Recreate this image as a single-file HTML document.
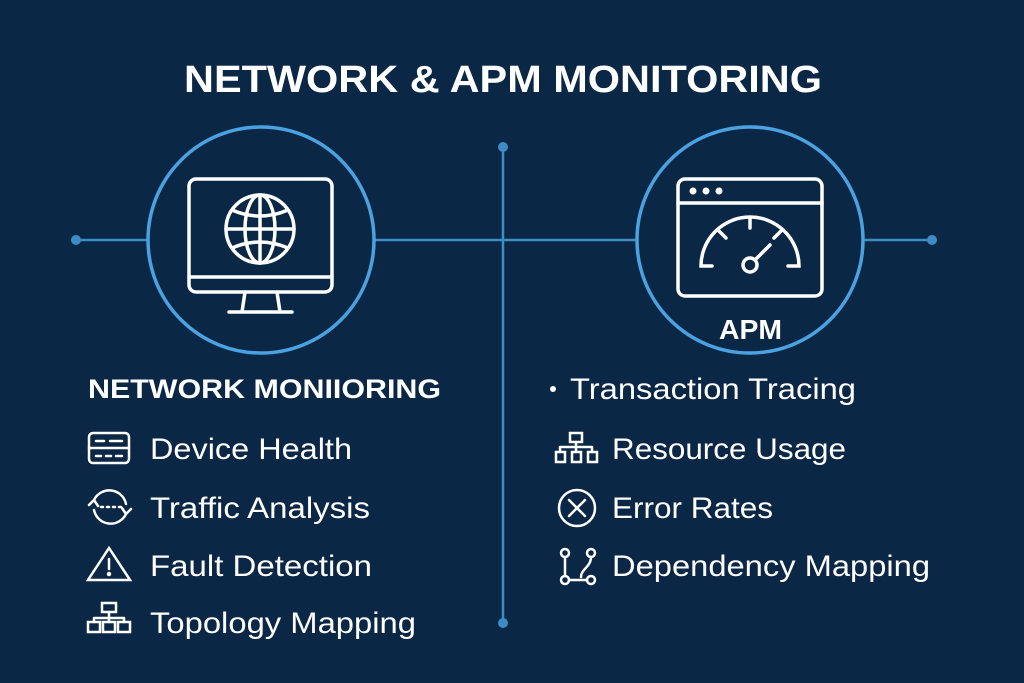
<!DOCTYPE html>
<html><head><style>
body{margin:0;width:1024px;height:683px;background:#0b2746;overflow:hidden}
svg{position:absolute;left:0;top:0}
text{font-family:"Liberation Sans",sans-serif;fill:#fff}
</style></head><body>
<svg width="1024" height="683" viewBox="0 0 1024 683">
<rect width="1024" height="683" fill="#0b2746"/>
<g stroke="#3d8cc4" stroke-width="2.5" fill="none">
<line x1="76" y1="240" x2="932" y2="240"/>
<line x1="503" y1="147" x2="503" y2="623"/>
</g>
<g fill="#3d8cc4"><circle cx="76" cy="240" r="5"/><circle cx="932" cy="240" r="5"/><circle cx="503" cy="147" r="5"/><circle cx="503" cy="623" r="5"/></g>
<g stroke="#4aa3e0" stroke-width="3.5" fill="#0b2746">
<circle cx="261" cy="240" r="113"/><circle cx="750" cy="240" r="113"/>
</g>
<text x="184" y="92" font-size="38" font-weight="bold" textLength="638" lengthAdjust="spacingAndGlyphs">NETWORK &amp; APM MONITORING</text>
<g stroke="#fff" stroke-width="3.5" fill="none" stroke-linecap="round">
<rect x="189" y="179" width="143" height="113" rx="7"/>
<line x1="189" y1="277" x2="332" y2="277"/>
<path d="M245 292 L242 312 M277 292 L280 312 M229 312 L292 312"/>
<circle cx="260" cy="229" r="34"/>
<ellipse cx="260" cy="229" rx="15" ry="34"/>
<line x1="260" y1="195" x2="260" y2="263"/>
<line x1="226" y1="229" x2="294" y2="229"/>
<path d="M232 210 Q260 222 288 210 M232 248 Q260 236 288 248"/>
</g>
<g stroke="#fff" stroke-width="3.5" fill="none" stroke-linecap="round">
<rect x="678" y="179" width="144" height="117" rx="7"/>
<line x1="678" y1="203" x2="822" y2="203"/>
<path d="M712 266 L701 266 A49 49 0 0 1 799 266 L788 266"/>
<path d="M750 218 L750 228 M719 231 L726 238 M781 231 L774 238"/>
<circle cx="750" cy="265" r="7"/>
<line x1="755" y1="260" x2="770" y2="245"/>
</g>
<g fill="#fff"><circle cx="693" cy="191" r="3.5"/><circle cx="706" cy="191" r="3.5"/><circle cx="719" cy="191" r="3.5"/></g>
<text x="719" y="339" font-size="28" font-weight="bold" textLength="63" lengthAdjust="spacingAndGlyphs">APM</text>
<text x="88" y="398" font-size="27" font-weight="bold" textLength="353" lengthAdjust="spacingAndGlyphs">NETWORK MONIIORING</text>
<g font-size="30">
<text x="150" y="459" textLength="202" lengthAdjust="spacingAndGlyphs">Device Health</text>
<text x="150" y="518" textLength="220" lengthAdjust="spacingAndGlyphs">Traffic Analysis</text>
<text x="150" y="576" textLength="222" lengthAdjust="spacingAndGlyphs">Fault Detection</text>
<text x="150" y="633" textLength="266" lengthAdjust="spacingAndGlyphs">Topology Mapping</text>
<text x="570" y="399" textLength="286" lengthAdjust="spacingAndGlyphs">Transaction Tracing</text>
<text x="612" y="459" textLength="234" lengthAdjust="spacingAndGlyphs">Resource Usage</text>
<text x="612" y="518" textLength="161" lengthAdjust="spacingAndGlyphs">Error Rates</text>
<text x="612" y="576" textLength="318" lengthAdjust="spacingAndGlyphs">Dependency Mapping</text>
</g>
<circle cx="553" cy="389" r="3" fill="#fff"/>
<g stroke="#fff" stroke-width="2.5" fill="none" stroke-linecap="round">
<rect x="89" y="433" width="40" height="30" rx="4"/><line x1="89" y1="448" x2="129" y2="448"/>
<path d="M96 441h8m6 0h12M96 456h5m5 0h5m5 0h6"/>
<path d="M94 500 A17 17 0 0 1 126 504 M126 514 A17 17 0 0 1 94 510"/>
<path d="M89 505l5-5 4 6 M131 509l-5 5-4-6"/>
<path d="M101 507h2m4 0h2m4 0h2m4 0h2"/>
<path d="M109 548 L88 580 L130 580 Z"/><path d="M109 559v10"/><circle cx="109" cy="574" r="1" fill="#fff"/>
<rect x="102" y="603" width="14" height="9"/><path d="M109 612v6M94 618h30M94 618v4M109 618v4M124 618v4"/>
<rect x="88" y="622" width="12" height="10"/><rect x="103" y="622" width="12" height="10"/><rect x="118" y="622" width="12" height="10"/>
<rect x="570" y="433" width="12" height="9"/><path d="M576 442v5M560 447h32M560 447v5M576 447v5M592 447v5"/>
<rect x="556" y="452" width="9" height="10"/><rect x="572" y="452" width="9" height="10"/><rect x="588" y="452" width="9" height="10"/>
<circle cx="577" cy="508" r="18"/><path d="M569 500l16 16M585 500l-16 16"/>
<circle cx="565" cy="553" r="4"/><circle cx="591" cy="553" r="4"/><circle cx="565" cy="580" r="4"/><circle cx="591" cy="580" r="4"/>
<path d="M565 557v19M569 580h18M591 557c0 10-10 12-10 20"/>
</g>
</svg>
</body></html>
